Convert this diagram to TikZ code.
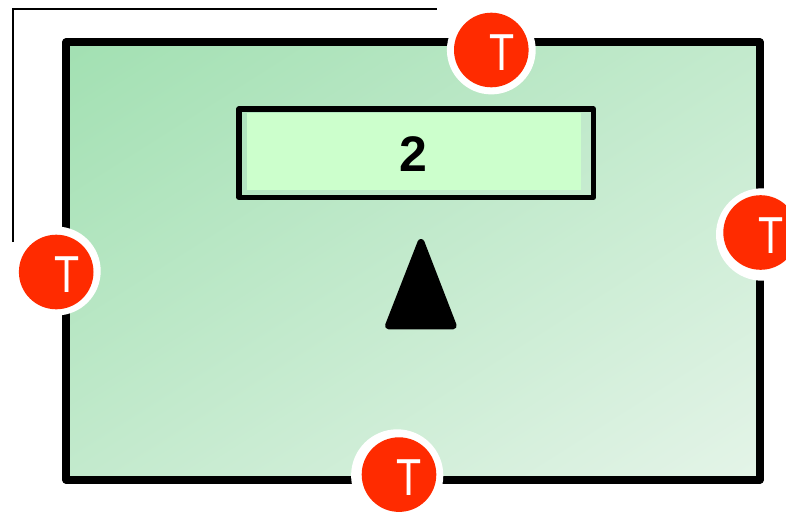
\documentclass[tikz,border=0pt]{standalone}
\usepackage{fontspec}
\setmainfont{Liberation Sans}
\definecolor{panelA}{RGB}{162,224,178}
\definecolor{panelB}{RGB}{228,244,232}
\definecolor{lcdfill}{RGB}{204,255,204}
\definecolor{badgered}{RGB}{255,43,0}
\tikzset{
  panel/.style={draw=black,line width=7.2pt,line join=round,inner sep=0pt,outer sep=0pt,minimum width=694pt,minimum height=438pt},
  lcdframe/.style={draw=black,line width=5.2pt,line join=round,inner sep=0pt,outer sep=0pt,minimum width=354.5pt,minimum height=88.5pt},
  lcdinner/.style={fill=lcdfill,inner sep=0pt,outer sep=0pt,minimum width=334.3pt,minimum height=76.7pt},
  badgering/.style={circle,fill=white,inner sep=0pt,outer sep=0pt},
  badge/.style={circle,fill=badgered,inner sep=0pt,outer sep=0pt,minimum size=74.6pt},
  badgetext/.style={anchor=base,inner sep=0pt,outer sep=0pt,text=white,font=\fontsize{52pt}{52pt}\selectfont},
  valuetext/.style={anchor=base,inner sep=0pt,outer sep=0pt,text=black,font=\fontsize{50pt}{50pt}\selectfont\bfseries},
  wire/.style={draw=black,line width=2.3pt},
  pointer/.style={draw=black,fill=black,line width=7pt,line join=round}
}
\newcommand{\thinT}{\scalebox{0.79}[1]{T}}
\begin{document}
\begin{tikzpicture}[x=1pt,y=-1pt]
\useasboundingbox (0,0) rectangle (786,511);
\clip (0,0) rectangle (786,511);
\fill[white] (0,0) rectangle (786,511);
\coordinate (wireA) at (13,242);
\coordinate (wireB) at (13,9);
\coordinate (wireC) at (437,9);
\draw[wire] (wireA) -- (wireB) -- (wireC);
\begin{scope}
  \clip (66,42) rectangle (760,480);
  \begin{scope}[transform canvas={shift={(413,261)},rotate=-57.7}]
    \shade[left color=panelA,right color=panelB] (-369.5,-600) rectangle (369.5,600);
  \end{scope}
\end{scope}
\node[panel] (main) at (413,261) {};
\node[lcdinner] (lcdin) at (413.8,151.7) {};
\node[lcdframe] (lcd) at (416.2,153.2) {};
\node[valuetext] (value) at (413.6,171.4) {2};
\coordinate (triA) at (421,242.5);
\coordinate (triB) at (388.5,325.8);
\coordinate (triC) at (453.2,325.8);
\path[pointer] (triA) -- (triB) -- (triC) -- cycle;
\node[badgering,minimum size=89pt] (rLeft) at (56.2,271) {};
\node[badgering,minimum size=88.8pt] (rTop) at (491.3,50) {};
\node[badgering,minimum size=92.4pt] (rRight) at (762.2,234.5) {};
\node[badgering,minimum size=92.2pt] (rBottom) at (397.2,475.4) {};
\node[badge] (bLeft) at (56.2,272) {};
\node[badge] (bTop) at (491.3,50) {};
\node[badge] (bRight) at (760.6,232.5) {};
\node[badge] (bBottom) at (399,474.6) {};
\node[badgetext] (tLeft) at (66.6,292.6) {\thinT};
\node[badgetext] (tTop) at (501.6,70.6) {\thinT};
\node[badgetext] (tRight) at (771,253.1) {\thinT};
\node[badgetext] (tBottom) at (409.4,495.2) {\thinT};
\end{tikzpicture}
\end{document}
